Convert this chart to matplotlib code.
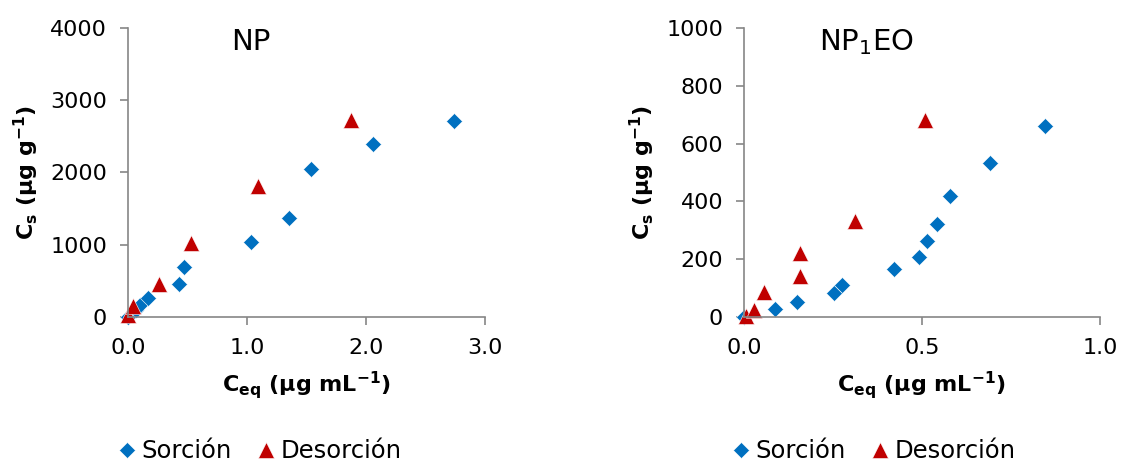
import matplotlib
matplotlib.use("Agg")
import matplotlib.pyplot as plt

# ── DATA ──────────────────────────────────────────
np_sor_x = [0.0, 0.07, 0.10, 0.17, 0.43, 0.47, 1.03, 1.35, 1.54, 2.06, 2.74]
np_sor_y = [0, 92, 161, 263, 456, 696, 1032, 1369, 2047, 2397, 2715]
np_des_x = [0.0, 0.04, 0.26, 0.53, 1.09, 1.87]
np_des_y = [25, 147, 456, 1023, 1816, 2719]

np1eo_sor_x = [0.0, 0.086, 0.148, 0.252, 0.276, 0.421, 0.491, 0.513, 0.541, 0.580, 0.691, 0.846]
np1eo_sor_y = [0, 27, 50, 83, 112, 166, 208, 264, 321, 419, 531, 660]
np1eo_des_x = [0.005, 0.029, 0.056, 0.156, 0.156, 0.313, 0.509]
np1eo_des_y = [3, 23, 86, 140, 220, 332, 681]

blue, red, grey = '#0070C0', '#C00000', '#868686'
plt.rcParams['font.family'] = ['DejaVu Sans']

fig = plt.figure(figsize=(11.23, 4.66), dpi=100)
ax1 = fig.add_axes([0.114, 0.320, 0.318, 0.620])
ax2 = fig.add_axes([0.6625, 0.320, 0.317, 0.620])

panels = [
    (ax1, np_sor_x, np_sor_y, np_des_x, np_des_y, 'NP', 0.29,
     (0, 3), [0, 1, 2, 3], (0, 4000), [0, 1000, 2000, 3000, 4000], 0.365),
    (ax2, np1eo_sor_x, np1eo_sor_y, np1eo_des_x, np1eo_des_y, r'NP$_1$EO', 0.21,
     (0, 1), [0, 0.5, 1], (0, 1000), [0, 200, 400, 600, 800, 1000], 0.36),
]

for ax, sx, sy, dx, dy, title, tx, xlim, xt, ylim, yt, lx in panels:
    ax.plot(sx, sy, 'D', color=blue, ms=8.5, mec='white', mew=0.4, label='Sorción', clip_on=False)
    ax.plot(dx, dy, '^', color=red, ms=11, mec='white', mew=0.4, label='Desorción', clip_on=False)
    ax.set_xlim(*xlim); ax.set_ylim(*ylim)
    ax.set_xticks(xt); ax.set_xticklabels(['{:.1f}'.format(v) for v in xt])
    ax.set_yticks(yt)
    for s in ['top', 'right']:
        ax.spines[s].set_visible(False)
    for s in ['left', 'bottom']:
        ax.spines[s].set_color(grey)
        ax.spines[s].set_linewidth(1.2)
    ax.tick_params(colors=grey, labelcolor='black', labelsize=16, direction='out',
                   length=6, width=1.2, pad=9)
    ax.text(tx, 0.95, title, transform=ax.transAxes, fontsize=21, ha='left', va='center')
    ax.set_xlabel(r'$\mathbf{C_{eq}}$ (μg mL$^{\mathbf{-1}}$)', fontsize=16, fontweight='bold', labelpad=8)
    ax.set_ylabel(r'$\mathbf{C_s}$ (μg g$^{\mathbf{-1}}$)', fontsize=16, fontweight='bold', labelpad=7)
    ax.legend(loc='center', bbox_to_anchor=(lx, -0.465), ncol=2, frameon=False,
              fontsize=17.5, handletextpad=0.1, columnspacing=0.9, handlelength=1.0)

fig.savefig('out.png', dpi=100)
